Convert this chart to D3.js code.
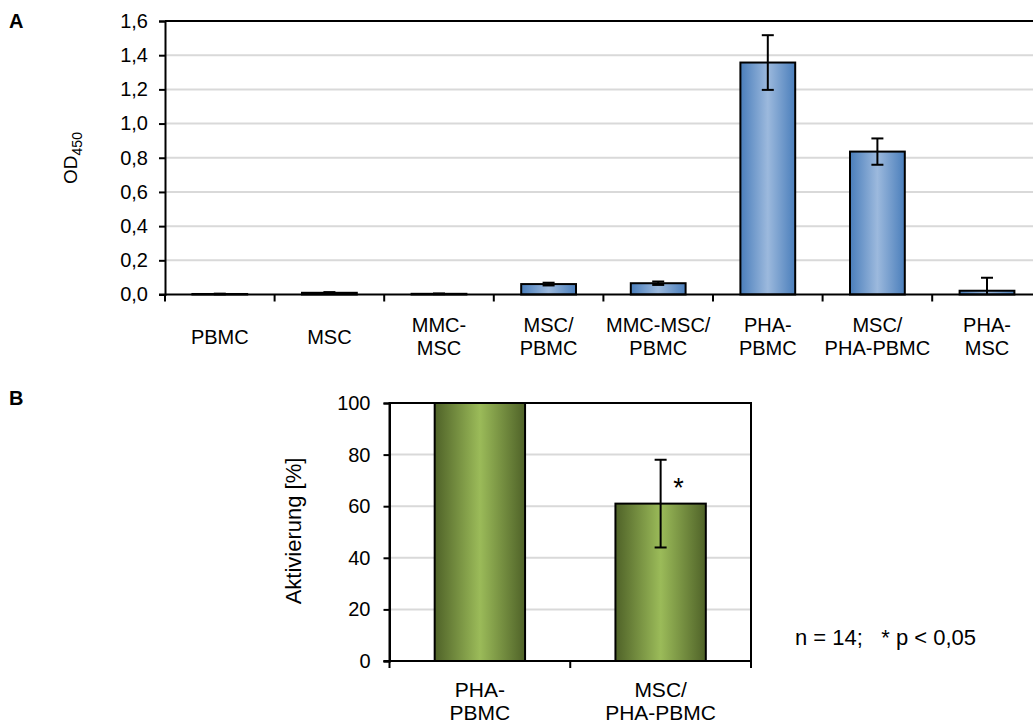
<!DOCTYPE html>
<html><head><meta charset="utf-8">
<script src="https://cdn.jsdelivr.net/npm/d3@7"></script>
<style>
body{margin:0;background:#fff;}
text{font-family:"Liberation Sans",Arial,sans-serif;fill:#000;}
</style></head><body>
<svg id="c" width="1033" height="724"></svg>
<script>
// Panel A data
const catsA = [["PBMC"],["MSC"],["MMC-","MSC"],["MSC/","PBMC"],["MMC-MSC/","PBMC"],["PHA-","PBMC"],["MSC/","PHA-PBMC"],["PHA-","MSC"]];
const valsA = [0.003, 0.010, 0.004, 0.061, 0.066, 1.357, 0.836, 0.022];
const errA  = [0.002, 0.004, 0.002, 0.008, 0.010, 0.160, 0.077, 0.076];
const ticksA = [0,0.2,0.4,0.6,0.8,1.0,1.2,1.4,1.6];
// Panel B data
const catsB = [["PHA-","PBMC"],["MSC/","PHA-PBMC"]];
const valsB = [100, 61];
const errB  = [0, 17];
const ticksB = [0,20,40,60,80,100];
const sigB = ["", "*"];

const FS_A = 20, FS_B = 21;
const svg = d3.select("#c");
const defs = svg.append("defs");
function grad(id, edge, mid){
  const g = defs.append("linearGradient").attr("id",id).attr("x1","0").attr("x2","1").attr("y1","0").attr("y2","0");
  g.append("stop").attr("offset","0%").attr("stop-color",edge);
  g.append("stop").attr("offset","50%").attr("stop-color",mid);
  g.append("stop").attr("offset","100%").attr("stop-color",edge);
}
grad("gBlue","#4a7ebb","#9cb9dd");
grad("gGreen","#4f6228","#9bbb59");

const fmt = d => d3.format(".1f")(d).replace(".",",");

// ---------- Panel A ----------
const A = {l:165, t:21, b:294.5, r:165+8*109.6};
const xA = d3.scaleBand().domain(d3.range(catsA.length)).range([A.l, A.r]).paddingInner(0.5).paddingOuter(0.25);
const yA = d3.scaleLinear().domain([0,1.6]).range([A.b, A.t]);
const gA = svg.append("g");
gA.selectAll(".grid").data(ticksA.filter(d=>d>0 && d<1.6)).enter().append("line")
  .attr("x1",A.l).attr("x2",A.r).attr("y1",d=>yA(d)).attr("y2",d=>yA(d))
  .attr("stroke","#d9d9d9").attr("stroke-width",2);
gA.append("line").attr("x1",A.l).attr("x2",A.r).attr("y1",A.t).attr("y2",A.t).attr("stroke","#000").attr("stroke-width",2);
gA.selectAll(".bar").data(valsA).enter().append("rect")
  .attr("x",(d,i)=>xA(i)).attr("width",xA.bandwidth())
  .attr("y",d=>yA(d)).attr("height",d=>A.b-yA(d))
  .attr("fill","url(#gBlue)").attr("stroke","#000").attr("stroke-width",2);
valsA.forEach((v,i)=>{
  const cx = xA(i)+xA.bandwidth()/2;
  const hi = yA(v+errA[i]), lo = yA(Math.max(0,v-errA[i]));
  gA.append("line").attr("x1",cx).attr("x2",cx).attr("y1",hi).attr("y2",lo).attr("stroke","#000").attr("stroke-width",2);
  gA.append("line").attr("x1",cx-6).attr("x2",cx+6).attr("y1",hi).attr("y2",hi).attr("stroke","#000").attr("stroke-width",2);
  if (v-errA[i] > 0) gA.append("line").attr("x1",cx-6).attr("x2",cx+6).attr("y1",lo).attr("y2",lo).attr("stroke","#000").attr("stroke-width",2);
});
gA.append("g").attr("class","axA").attr("transform",`translate(${A.l},0)`)
  .call(d3.axisLeft(yA).tickValues(ticksA).tickFormat(fmt).tickSize(6).tickPadding(11));
gA.append("line").attr("x1",A.l-6).attr("x2",A.r).attr("y1",A.b).attr("y2",A.b).attr("stroke","#000").attr("stroke-width",2);
d3.range(catsA.length+1).forEach(i=>{
  const x = A.l + i*(A.r-A.l)/catsA.length;
  gA.append("line").attr("x1",x).attr("x2",x).attr("y1",A.b).attr("y2",A.b+7).attr("stroke","#000").attr("stroke-width",2);
});
catsA.forEach((lab,i)=>{
  const cx = xA(i)+xA.bandwidth()/2;
  const t = gA.append("text").attr("text-anchor","middle").attr("font-size",FS_A);
  if (lab.length===1) t.append("tspan").attr("x",cx).attr("y",344).text(lab[0]);
  else lab.forEach((s,j)=>t.append("tspan").attr("x",cx).attr("y",332+j*23).text(s));
});
const ytA = gA.append("text").attr("transform","translate(77,158) rotate(-90)").attr("text-anchor","middle").attr("font-size",19);
ytA.append("tspan").text("OD");
ytA.append("tspan").attr("font-size",14).attr("dy",5).text("450");
svg.append("text").attr("x",9).attr("y",28).attr("font-size",20).attr("font-weight","bold").text("A");

// ---------- Panel B ----------
const B = {l:389.5, r:751, t:403, b:661};
const xB = d3.scaleBand().domain(d3.range(catsB.length)).range([B.l,B.r]).paddingInner(0.5).paddingOuter(0.25);
const yB = d3.scaleLinear().domain([0,100]).range([B.b,B.t]);
const gB = svg.append("g");
gB.selectAll(".grid").data(ticksB.filter(d=>d>0&&d<100)).enter().append("line")
  .attr("x1",B.l).attr("x2",B.r).attr("y1",d=>yB(d)).attr("y2",d=>yB(d))
  .attr("stroke","#d9d9d9").attr("stroke-width",2);
gB.append("rect").attr("x",B.l).attr("y",B.t).attr("width",B.r-B.l).attr("height",B.b-B.t)
  .attr("fill","none").attr("stroke","#000").attr("stroke-width",2);
gB.selectAll(".bar").data(valsB).enter().append("rect")
  .attr("x",(d,i)=>xB(i)).attr("width",xB.bandwidth())
  .attr("y",d=>yB(d)).attr("height",d=>B.b-yB(d))
  .attr("fill","url(#gGreen)").attr("stroke","#000").attr("stroke-width",2);
valsB.forEach((v,i)=>{
  if (!errB[i]) return;
  const cx = xB(i)+xB.bandwidth()/2;
  const hi = yB(v+errB[i]), lo = yB(v-errB[i]);
  gB.append("line").attr("x1",cx).attr("x2",cx).attr("y1",hi).attr("y2",lo).attr("stroke","#000").attr("stroke-width",2);
  [hi,lo].forEach(yy=>gB.append("line").attr("x1",cx-6).attr("x2",cx+6).attr("y1",yy).attr("y2",yy).attr("stroke","#000").attr("stroke-width",2));
  gB.append("text").attr("x",cx+18).attr("y",hi+37).attr("text-anchor","middle").attr("font-size",27).text(sigB[i]);
});
gB.append("g").attr("class","axB").attr("transform",`translate(${B.l},0)`)
  .call(d3.axisLeft(yB).tickValues(ticksB).tickSize(6).tickPadding(13));
gB.append("line").attr("x1",B.l-6).attr("x2",B.r).attr("y1",B.b).attr("y2",B.b).attr("stroke","#000").attr("stroke-width",2);
d3.range(catsB.length+1).forEach(i=>{
  const x = B.l + i*(B.r-B.l)/catsB.length;
  gB.append("line").attr("x1",x).attr("x2",x).attr("y1",B.b).attr("y2",B.b+7).attr("stroke","#000").attr("stroke-width",2);
});
catsB.forEach((lab,i)=>{
  const cx = xB(i)+xB.bandwidth()/2;
  const t = gB.append("text").attr("text-anchor","middle").attr("font-size",FS_B);
  lab.forEach((s,j)=>t.append("tspan").attr("x",cx).attr("y",697+j*23).text(s));
});
gB.append("text").attr("transform","translate(301,531) rotate(-90)").attr("text-anchor","middle").attr("font-size",22).text("Aktivierung [%]");
gB.append("text").attr("x",795).attr("y",645).attr("font-size",22).attr("xml:space","preserve").text("n = 14;   * p < 0,05");
svg.append("text").attr("x",9).attr("y",405).attr("font-size",20).attr("font-weight","bold").text("B");

svg.selectAll(".domain").attr("stroke","#000").attr("stroke-width",2);
svg.selectAll(".tick line").attr("stroke","#000").attr("stroke-width",2);
svg.selectAll(".axA .tick text").attr("font-size",FS_A);
svg.selectAll(".axB .tick text").attr("font-size",20);
svg.selectAll(".tick text").attr("font-family","Liberation Sans, Arial, sans-serif").attr("fill","#000");
</script></body></html>
